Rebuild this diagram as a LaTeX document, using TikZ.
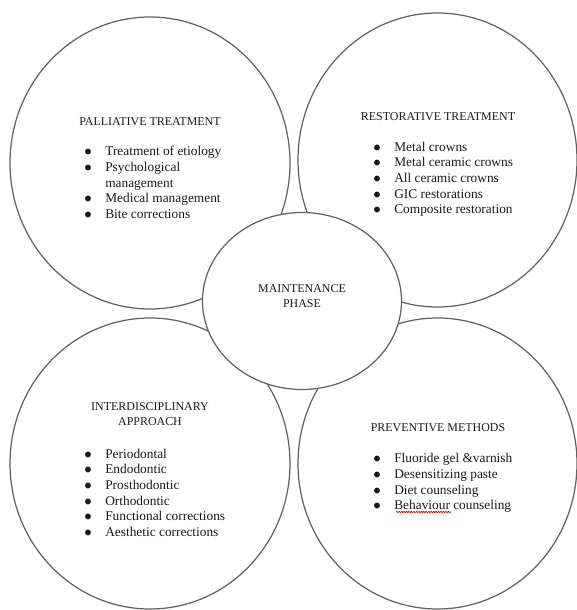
\documentclass[tikz,border=0pt]{standalone}
\usepackage{fontspec}
\setmainfont{Liberation Serif}
\usepackage{tikz}
\usetikzlibrary{shapes.geometric,positioning,decorations.pathmorphing}
\usepackage{xcolor}

\begin{document}
\begin{tikzpicture}[line cap=round,
  blob/.style={ellipse,draw=black!62,line width=0.7pt,inner sep=0pt},
  heading/.style={anchor=base,text=black!90,align=center,font=\fontsize{6.8}{8.9}\selectfont},
  items/.style={anchor=north west,text=black!90,inner sep=0pt,font=\fontsize{7.6}{8.9}\selectfont}]
\useasboundingbox (0,0) rectangle (11.54,12.2);
% four outer phases
\node[blob,minimum width=5.6cm,minimum height=5.84cm] (pall) at (3.00,8.94) {};
\node[blob,minimum width=5.58cm,minimum height=5.88cm] (rest) at (8.75,9.00) {};
\node[blob,minimum width=5.6cm,minimum height=5.82cm] (inter) at (3.00,2.93) {};
\node[blob,minimum width=5.58cm,minimum height=5.82cm] (prev) at (8.75,2.93) {};
% centre sits on top
\node[blob,fill=white,minimum width=3.98cm,minimum height=3.54cm] (maint) at (6.04,6.18) {};
\node[heading] (maintT) at (6.04,6.04) {MAINTENANCE\\PHASE};
% palliative
\node[heading] (pallT) at (3.00,9.68) {PALLIATIVE TREATMENT};
\node[items] (pallL) at (1.68,9.31) {\begin{tabular}{@{}l@{\hspace{0.27cm}}l@{}}
$\bullet$ & Treatment of etiology\\
$\bullet$ & Psychological\\
 & management\\
$\bullet$ & Medical management\\
$\bullet$ & Bite corrections
\end{tabular}};
% restorative
\node[heading] (restT) at (8.76,9.78) {RESTORATIVE TREATMENT};
\node[items] (restL) at (7.46,9.40) {\begin{tabular}{@{}l@{\hspace{0.27cm}}l@{}}
$\bullet$ & Metal crowns\\
$\bullet$ & Metal ceramic crowns\\
$\bullet$ & All ceramic crowns\\
$\bullet$ & GIC restorations\\
$\bullet$ & Composite restoration
\end{tabular}};
% interdisciplinary
\node[heading] (interT) at (3.00,3.68) {INTERDISCIPLINARY\\APPROACH};
\node[items] (interL) at (1.68,3.26) {\begin{tabular}{@{}l@{\hspace{0.27cm}}l@{}}
$\bullet$ & Periodontal\\
$\bullet$ & Endodontic\\
$\bullet$ & Prosthodontic\\
$\bullet$ & Orthodontic\\
$\bullet$ & Functional corrections\\
$\bullet$ & Aesthetic corrections
\end{tabular}};
% preventive
\node[heading] (prevT) at (8.76,3.57) {PREVENTIVE METHODS};
\node[items] (prevL) at (7.46,3.17) {\begin{tabular}{@{}l@{\hspace{0.27cm}}l@{}}
$\bullet$ & Fluoride gel \&varnish\\
$\bullet$ & Desensitizing paste\\
$\bullet$ & Diet counseling\\
$\bullet$ & Behaviour counseling
\end{tabular}};
\draw[red!85!black,line width=0.4pt,decorate,decoration={snake,amplitude=0.4pt,segment length=1.4pt}] (7.92,1.96) -- (9.02,1.96);
\end{tikzpicture}
\end{document}
